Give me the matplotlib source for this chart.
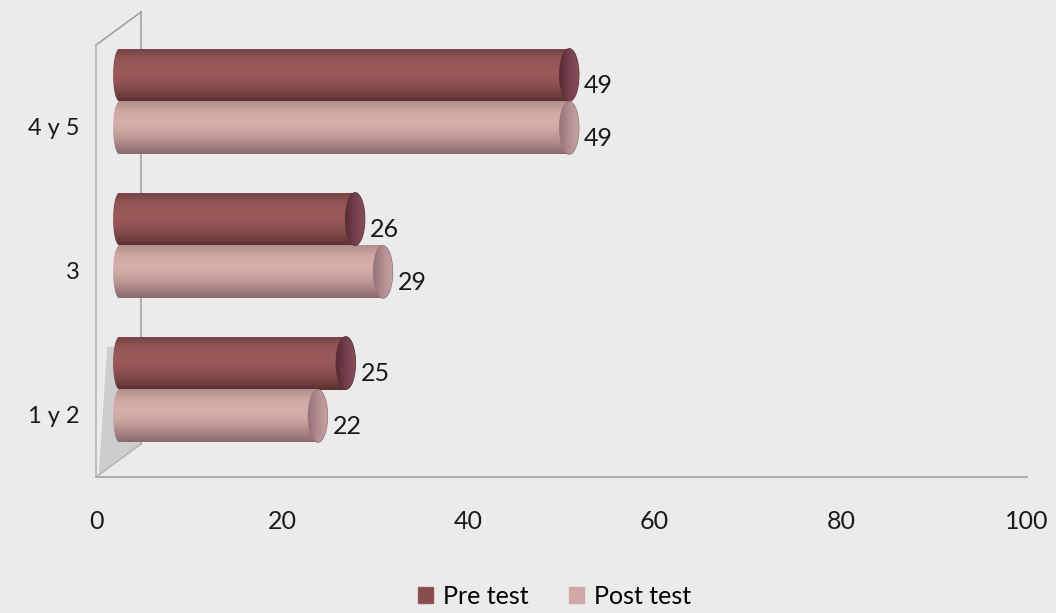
import numpy as np
import matplotlib.pyplot as plt
from matplotlib.patches import Ellipse, Patch, Polygon
from matplotlib.colors import LinearSegmentedColormap

# categories top to bottom and the two survey rounds
categories = ['4 y 5', '3', '1 y 2']
pre_test = [49, 26, 25]
post_test = [49, 29, 22]
series_names = ['Pre test', 'Post test']
x_ticks = [0, 20, 40, 60, 80, 100]

BG = '#ebebeb'
FONT = 'Lato'
FS = 18

# depth offsets of the pseudo 3D box (data units)
DEPTH_X, DEPTH_Y = 4.83, 0.229
BAR_DX = 1.83
BAR_H = 0.368
CAP_W = 2.1
LEFT_W = 1.4

pre_cmap = LinearSegmentedColormap.from_list(
    'pre', ['#7a4444', '#955656', '#9c5b5b', '#935555', '#7c4646', '#5a3030'])
post_cmap = LinearSegmentedColormap.from_list(
    'post', ['#b48e8c', '#d0a8a4', '#d6aeaa', '#cba3a0', '#ad8888', '#8a6a6e'])
cap_cmaps = [LinearSegmentedColormap.from_list('pre_cap', ['#552b32', '#74404b', '#8a4e5a']),
             LinearSegmentedColormap.from_list('post_cap', ['#94727a', '#b28e90', '#c6a2a2'])]

fig = plt.figure(figsize=(10.56, 6.13), dpi=100, facecolor=BG)
ax = fig.add_axes([96 / 1056, 136 / 613, 931 / 1056, 432 / 613])
ax.set_facecolor(BG)
ax.set_xlim(0, 100)
ax.set_ylim(-0.604, 2.396)

pos = np.arange(len(categories))[::-1]
vgrad = np.linspace(0, 1, 64).reshape(-1, 1)
hgrad = np.linspace(0, 1, 32).reshape(1, -1)


def cylinder(yc, value, cmap, cap_cmap):
    xs = BAR_DX + LEFT_W / 2
    x1 = BAR_DX + value
    y_top, y_bot = yc + BAR_H / 2, yc - BAR_H / 2
    body = ax.barh(yc, x1 - xs, left=xs, height=BAR_H, color=cmap(0.4),
                   linewidth=0, zorder=3)[0]
    im = ax.imshow(vgrad, cmap=cmap, extent=(xs - 0.05, x1, y_bot, y_top),
                   aspect='auto', origin='upper', zorder=3,
                   interpolation='bilinear')
    im.set_clip_path(body)
    # rounded back end
    left = Ellipse((xs, yc), LEFT_W, BAR_H, facecolor='none', linewidth=0)
    ax.add_patch(left)
    im2 = ax.imshow(vgrad, cmap=cmap, extent=(BAR_DX, xs + 0.05, y_bot, y_top),
                    aspect='auto', origin='upper', zorder=3,
                    interpolation='bilinear')
    im2.set_clip_path(left)
    # front face
    cap = Ellipse((x1, yc), CAP_W, BAR_H, facecolor='none',
                  edgecolor=cap_cmap(0.1), linewidth=0.6, zorder=5)
    ax.add_patch(cap)
    im3 = ax.imshow(hgrad, cmap=cap_cmap, extent=(x1 - CAP_W / 2, x1 + CAP_W / 2, y_bot, y_top),
                    aspect='auto', origin='upper', zorder=4,
                    interpolation='bilinear')
    im3.set_clip_path(cap)
    ax.text(x1 + 1.6, yc - 0.07, f'{value}', fontsize=FS, family=FONT,
            color='#1a1a1a', va='center', ha='left', zorder=5)


# box lines: back wall, front edge and floor
y_lo, y_hi = ax.get_ylim()
line_kw = dict(color='#9c9c9c', linewidth=1.1, clip_on=False)
ax.plot([DEPTH_X, DEPTH_X], [y_lo + DEPTH_Y, y_hi + DEPTH_Y], zorder=1, **line_kw)
ax.plot([0, DEPTH_X], [y_hi, y_hi + DEPTH_Y], zorder=1, **line_kw)
ax.plot([0, 0], [y_lo, y_hi], zorder=1, color='#b4b4b4', linewidth=1.1, clip_on=False)
ax.plot([0, 100], [y_lo, y_lo], zorder=1, **line_kw)
ax.plot([0, DEPTH_X], [y_lo, y_lo + DEPTH_Y], zorder=1, color='#b0b0b0',
        linewidth=1, clip_on=False)
ax.add_patch(Polygon([[0.3, y_lo + 0.02], [DEPTH_X, y_lo + DEPTH_Y],
                      [DEPTH_X, 0.3], [1.2, 0.3]],
                     closed=True, facecolor='#a9a9a9', alpha=0.45,
                     linewidth=0, zorder=2))

for i, p in enumerate(pos):
    cylinder(p + 0.1875, pre_test[i], pre_cmap, cap_cmaps[0])
    cylinder(p - 0.18, post_test[i], post_cmap, cap_cmaps[1])

for s in ax.spines.values():
    s.set_visible(False)
ax.set_xticks(x_ticks)
ax.set_xticklabels([str(t) for t in x_ticks], fontsize=FS, family=FONT, color='#1a1a1a')
ax.set_yticks(pos - 0.17)
ax.set_yticklabels(categories, fontsize=FS - 1, family=FONT, color='#1a1a1a')
ax.tick_params(axis='x', length=0, pad=24)
ax.tick_params(axis='y', length=0, pad=12)

handles = [Patch(facecolor=pre_cmap(0.7), edgecolor=pre_cmap(0.2)),
           Patch(facecolor=post_cmap(0.5), edgecolor=post_cmap(0.2))]
fig.legend(handles, series_names, loc='center', bbox_to_anchor=(0.525, 0.027),
           ncol=2, frameon=False, handlelength=0.6, handleheight=0.6,
           handletextpad=0.4, columnspacing=1.6, prop={'family': FONT, 'size': FS})

fig.savefig('out.png', dpi=100, facecolor=BG)
